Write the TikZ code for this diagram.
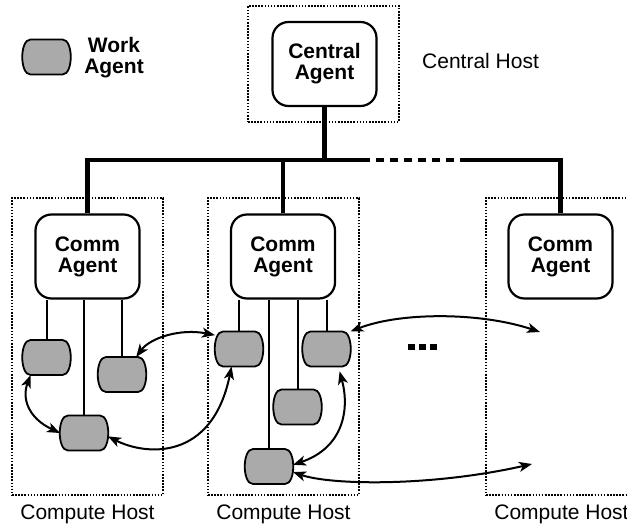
\documentclass[tikz,border=0pt]{standalone}
\usepackage{fontspec}
\setmainfont{Liberation Sans}
\usetikzlibrary{calc,arrows.meta}
\definecolor{agentgray}{RGB}{170,170,170}

% a work agent: a named node with a flat-topped, round-sided outline
\newcommand\workagent[2]{%
  \node[wnode] (#1) at #2 {};
  \draw[wshape] ($(#1.north west)+(8,0)$) -- ($(#1.north east)+(-8,0)$)
    .. controls +(11,0) and +(11,0) .. ($(#1.south east)+(-8,0)$)
    -- ($(#1.south west)+(8,0)$)
    .. controls +(-11,0) and +(-11,0) .. ($(#1.north west)+(8,0)$) -- cycle;
}

\begin{document}
\begin{tikzpicture}[x=1pt,y=-1pt,
  hostbox/.style={draw, line width=1.8pt, dash pattern=on 1.6pt off 1.5pt,
    minimum width=151pt, inner sep=0pt, outer sep=0pt},
  agentbox/.style={draw, line width=2.2pt, rounded corners=16pt,
    minimum width=104pt, minimum height=84pt, inner sep=0pt, align=center,
    font=\fontsize{21}{21}\selectfont\bfseries},
  wnode/.style={minimum width=48pt, minimum height=35pt, inner sep=0pt, outer sep=0pt},
  wshape/.style={draw, fill=agentgray, line width=1.8pt},
  link/.style={line width=2pt},
  bus/.style={line width=4.4pt},
  busdots/.style={line width=4.4pt, dash pattern=on 8pt off 6pt},
  moredots/.style={line width=6pt, dash pattern=on 7pt off 4pt},
  msg/.style={line width=2pt, {Stealth[length=13pt,width=10pt,inset=3.5pt]}-{Stealth[length=13pt,width=10pt,inset=3.5pt]}},
  hostlabel/.style={inner sep=0pt, font=\fontsize{21}{21}\selectfont},
  legendtext/.style={inner sep=0pt, align=center, font=\fontsize{21}{21}\selectfont\bfseries}
]
\useasboundingbox (0,0) rectangle (627,529);
\clip (0,0) rectangle (627,529);

% hosts
\node[hostbox, minimum height=116pt] (chost) at (323.5,64) {};
\node[hostbox, minimum height=297pt] (h1) at (87.5,346.5) {};
\node[hostbox, minimum height=297pt] (h2) at (283.5,346.5) {};
\node[hostbox, minimum height=297pt] (h3) at (561.5,346.5) {};
\node[hostlabel, anchor=base west] (chostlbl) at (422,69) {Central Host};
\node[hostlabel, anchor=base] (l1) at ($(h1.south)+(0,24)$) {Compute Host};
\node[hostlabel, anchor=base] (l2) at ($(h2.south)+(0,24)$) {Compute Host};
\node[hostlabel, anchor=base] (l3) at ($(h3.south)+(0,24)$) {Compute Host};

% central and communication agents
\node[agentbox] (central) at (324.5,64) {Central\\Agent};
\node[agentbox] (comm1) at (87.5,256.5) {Comm\\Agent};
\node[agentbox] (comm2) at (283,256.5) {Comm\\Agent};
\node[agentbox] (comm3) at (560.5,256.5) {Comm\\Agent};

% network bus
\coordinate (bl) at (370,160);
\coordinate (br) at (460,160);
\coordinate (dl) at (376,160);
\coordinate (dr) at (454,160);
\draw[bus] (comm1.north) |- (bl);
\draw[bus] (br) -| (comm3.north);
\draw[bus] (central.south) -- (central.south |- bl);
\draw[bus] (comm2.north) -- (comm2.north |- bl);
\draw[busdots] (dl) -- (dr);

% legend
\workagent{legend}{(46.5,57)}
\node[legendtext] (legendlbl) at (114,57.5) {Work\\Agent};

% work agents
\workagent{w1a}{(46.5,357.5)}
\workagent{w1b}{(122,374.5)}
\workagent{w1c}{(84,433)}
\workagent{w2a}{(239,349)}
\workagent{w2b}{(326.5,349)}
\workagent{w2c}{(297.5,407)}
\workagent{w2d}{(269,466.5)}

% links from communication agents to work agents
\foreach \w in {w1a,w1b,w1c}
  \draw[link] (\w.north |- comm1.south) -- (\w.north);
\foreach \w in {w2a,w2b,w2c,w2d}
  \draw[link] (\w.north |- comm2.south) -- (\w.north);

% messages between work agents
\coordinate (r1) at (540,332);
\coordinate (r2) at (532,464);
\draw[msg] (w1a.228) .. controls +(-9,23) and +(-32,-15) .. (w1c.west);
\draw[msg] (w1b.51) .. controls +(14,-19) and +(-35,-7) .. (w2a.150);
\draw[msg] (w1c.-8) .. controls +(37,19) and +(-19.5,95.5) .. (w2a.247);
\draw[msg] (w2b.north east) .. controls +(49.5,-19.5) and +(-60,-20) .. (r1);
\draw[msg, shorten <=5pt] (w2b.-56) .. controls +(11.7,43.5) and +(50,-17) .. (w2d.4);
\draw[msg] (w2d.-13) .. controls +(37,13) and +(-102,23) .. (r2);

% further hosts
\coordinate (m1) at (408,347);
\coordinate (m2) at (437,347);
\draw[moredots] (m1) -- (m2);
\end{tikzpicture}
\end{document}
